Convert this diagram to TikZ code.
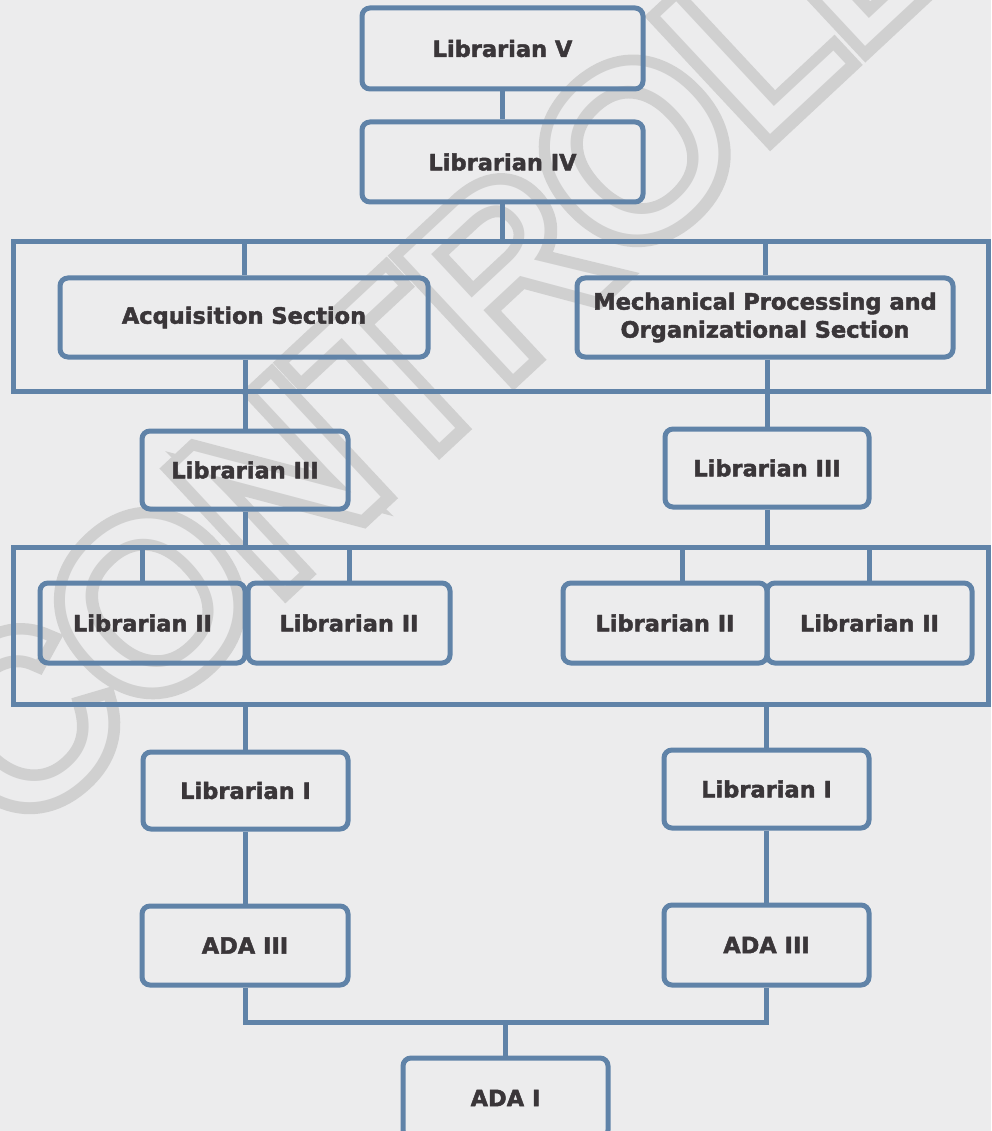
\documentclass[tikz,border=0pt]{standalone}
\usepackage{fontspec}
\newfontfamily\boxfont{DejaVu Sans}[BoldFeatures={FakeBold=2}]
\newfontfamily\stampfont{Liberation Sans}
\newfontfamily\stamprim{Liberation Sans}[FakeBold=10]
\definecolor{paper}{RGB}{236,236,237}
\definecolor{linkblue}{RGB}{96,131,168}
\definecolor{ink}{RGB}{58,54,57}
\definecolor{stampgray}{RGB}{208,208,208}
\tikzset{
  post/.style={draw=linkblue, line width=5pt, rounded corners=8pt, inner sep=0pt,
    text=ink, align=center,
    font=\boxfont\bfseries\fontsize{22.5}{28}\selectfont},
  band/.style={draw=linkblue, line width=5pt, inner sep=0pt},
  link/.style={draw=linkblue, line width=5pt},
  stamp/.style={rotate=43, inner sep=0pt, anchor=center},
}
\begin{document}
\begin{tikzpicture}[x=1pt, y=-1pt]
  \useasboundingbox (0,0) rectangle (991,1131);
  \fill[paper] (0,0) rectangle (991,1131);

  % hollow stamp lettering: a widened grey copy with a paper-coloured copy on top
  \node[stamp, text=stampgray, font=\stamprim\fontsize{234}{234}\selectfont]
    (stamprim) at (545,235) {CONTROLLED};
  \node[stamp, text=paper, font=\stampfont\fontsize{234}{234}\selectfont]
    (stamp) at (stamprim.center) {CONTROLLED};

  % section bands
  \node[band, minimum width=975pt, minimum height=149pt] (band1) at (500.5,316.5) {};
  \node[band, minimum width=975pt, minimum height=157pt] (band2) at (500.5,625.5) {};

  % positions
  \node[post, minimum width=281pt, minimum height=81pt] (libV)  at (502.5,48.5) {Librarian V};
  \node[post, minimum width=281pt, minimum height=80pt] (libIV) at (502.5,162) {Librarian IV};
  \node[post, minimum width=368pt, minimum height=79pt] (acq)   at (244,317.5) {Acquisition Section};
  \node[post, minimum width=376pt, minimum height=79pt] (mech)  at (765,317.5) {Mechanical Processing and\\Organizational Section};
  \node[post, minimum width=206pt, minimum height=78pt] (lib3L) at (245,470) {Librarian III};
  \node[post, minimum width=204pt, minimum height=78pt] (lib3R) at (767,468) {Librarian III};
  \node[post, minimum width=205pt, minimum height=80pt] (l2a) at (142.5,623) {Librarian II};
  \node[post, minimum width=202pt, minimum height=80pt] (l2b) at (349,623) {Librarian II};
  \node[post, minimum width=204pt, minimum height=80pt] (l2c) at (665,623) {Librarian II};
  \node[post, minimum width=205pt, minimum height=80pt] (l2d) at (869.5,623) {Librarian II};
  \node[post, minimum width=205pt, minimum height=77pt] (lib1L) at (245.5,790.5) {Librarian I};
  \node[post, minimum width=205pt, minimum height=78pt] (lib1R) at (766.5,789) {Librarian I};
  \node[post, minimum width=206pt, minimum height=79pt] (adaL) at (245,945.5) {ADA III};
  \node[post, minimum width=205pt, minimum height=80pt] (adaR) at (766.5,945) {ADA III};
  \node[post, minimum width=205pt, minimum height=80pt] (adaI) at (505.5,1098) {ADA I};
  \coordinate (merge) at (505.5,1022);

  % connectors
  \draw[link] (libV.south) -- (libIV.north);
  \draw[link] (libIV.south) -- (libIV.south |- band1.north);
  \draw[link] (acq.north) -- (acq.north |- band1.north);
  \draw[link] (mech.north) -- (mech.north |- band1.north);
  \draw[link] (lib3L.north |- acq.south) -- (lib3L.north);
  \draw[link] (lib3R.north |- mech.south) -- (lib3R.north);
  \draw[link] (lib3L.south) -- (lib3L.south |- band2.north);
  \draw[link] (lib3R.south) -- (lib3R.south |- band2.north);
  \draw[link] (l2a.north) -- (l2a.north |- band2.north);
  \draw[link] (l2b.north) -- (l2b.north |- band2.north);
  \draw[link] ([xshift=17pt]l2c.north) -- ([xshift=17pt]l2c.north |- band2.north);
  \draw[link] (l2d.north) -- (l2d.north |- band2.north);
  \draw[link] (lib1L.north) -- (lib1L.north |- band2.south);
  \draw[link] (lib1R.north) -- (lib1R.north |- band2.south);
  \draw[link] (lib1L.south) -- (lib1L.south |- adaL.north);
  \draw[link] (lib1R.south) -- (lib1R.south |- adaR.north);
  \draw[link] (adaL.south) |- (merge) -| (adaR.south);
  \draw[link] (merge) -- (adaI.north);
\end{tikzpicture}
\end{document}
